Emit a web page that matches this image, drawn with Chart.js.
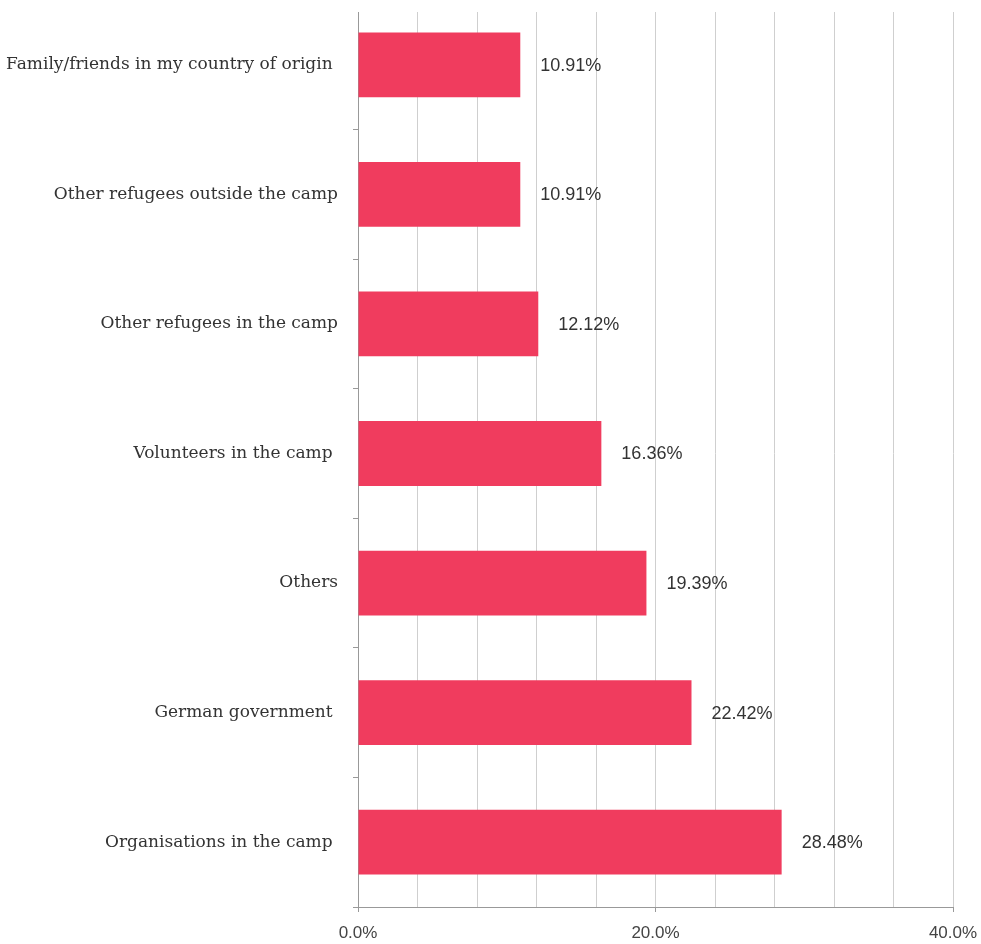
<!DOCTYPE html>
<html>
<head>
<meta charset="utf-8">
<script src="https://cdn.jsdelivr.net/npm/chart.js@4/dist/chart.umd.min.js"></script>
<style>
html,body{margin:0;padding:0;background:#fff;}
#wrap{width:981px;height:944px;position:relative;}
</style>
</head>
<body>
<div id="wrap"><canvas id="c"></canvas></div>
<script>
const categories = [
  "Family/friends in my country of origin ",
  "Other refugees outside the camp",
  "Other refugees in the camp",
  "Volunteers in the camp ",
  "Others",
  "German government ",
  "Organisations in the camp "
];
const shares = [10.91, 10.91, 12.12, 16.36, 19.39, 22.42, 28.48];
const xTickLabels = [0, 20, 40];

const valueLabels = {
  id: 'valueLabels',
  afterDatasetsDraw(chart) {
    const ctx = chart.ctx;
    const meta = chart.getDatasetMeta(0);
    ctx.save();
    ctx.font = '18px "Liberation Sans", Arial, sans-serif';
    ctx.fillStyle = '#333';
    ctx.textAlign = 'left';
    ctx.textBaseline = 'middle';
    meta.data.forEach((bar, i) => {
      ctx.fillText(shares[i].toFixed(2) + '%', bar.x + 20, bar.y + 1);
    });
    ctx.restore();
  }
};

// the reference's grid and axis start a little below the top edge
const topGap = {
  id: 'topGap',
  beforeDatasetsDraw(chart) {
    const a = chart.chartArea;
    const ctx = chart.ctx;
    ctx.save();
    ctx.fillStyle = '#fff';
    ctx.fillRect(a.left - 10, a.top - 1, a.right - a.left + 20, 13);
    ctx.restore();
  }
};

new Chart(document.getElementById('c'), {
  type: 'bar',
  data: {
    labels: categories,
    datasets: [{
      data: shares,
      backgroundColor: '#F03C5E',
      borderWidth: 0,
      barPercentage: 0.5,
      categoryPercentage: 1.0
    }]
  },
  plugins: [topGap, valueLabels],
  options: {
    indexAxis: 'y',
    responsive: true,
    maintainAspectRatio: false,
    animation: false,
    layout: { padding: 0 },
    plugins: { legend: { display: false }, tooltip: { enabled: false } },
    scales: {
      x: {
        min: 0, max: 40,
        afterFit: (s) => { s.height = 37; s.paddingLeft = 0; s.paddingRight = 28; },
        ticks: {
          stepSize: 4,
          autoSkip: false,
          maxRotation: 0,
          padding: 11,
          color: '#444',
          font: { family: '"Liberation Sans", Arial, sans-serif', size: 17 },
          callback: (v) => xTickLabels.includes(v) ? v.toFixed(1) + '%' : ''
        },
        grid: {
          color: '#cfcfcf',
          lineWidth: 1,
          tickLength: 5,
          tickColor: (c) => (c.tick && xTickLabels.includes(c.tick.value)) ? '#999' : 'rgba(0,0,0,0)'
        },
        border: { color: '#999', width: 1 }
      },
      y: {
        afterFit: (s) => { s.width = 358; s.paddingTop = 0; s.paddingBottom = 0; },
        ticks: {
          padding: 15,
          color: '#333',
          font: { family: '"DejaVu Serif", serif', size: 17 }
        },
        grid: {
          offset: true,
          drawOnChartArea: false,
          tickLength: 5,
          tickColor: '#999'
        },
        border: { color: '#999', width: 1 }
      }
    }
  }
});
</script>
</body>
</html>
